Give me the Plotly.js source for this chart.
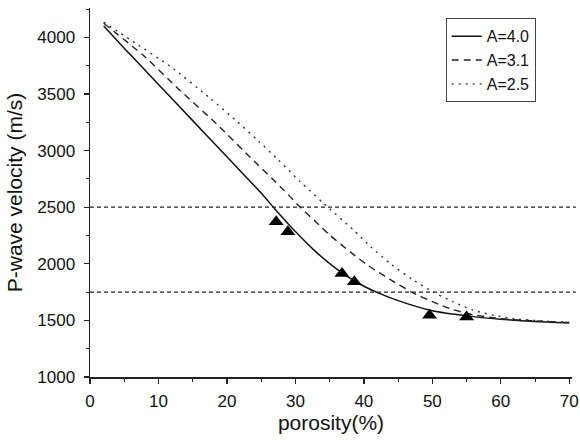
<!DOCTYPE html>
<html>
<head>
<meta charset="utf-8">
<script src="https://cdn.plot.ly/plotly-3.0.1.min.js"></script>
<style>html,body{margin:0;padding:0;background:#fff;}#chart{width:580px;height:441px;}</style>
</head>
<body>
<div id="chart"></div>
<script>
// Curve A=4.0 (solid)
const xA40 = [2, 5, 10, 15, 20, 25, 27, 30, 33, 36, 39, 42, 45, 50, 55, 60, 65, 70];
const yA40 = [4100, 3905, 3585, 3265, 2945, 2625, 2485, 2285, 2105, 1955, 1835, 1745, 1675, 1585, 1540, 1510, 1490, 1478];
// Curve A=3.1 (dashed)
const xA31 = [2, 8, 13, 18.5, 24, 28, 30.7, 33, 35, 38, 40.5, 44, 47, 50, 53, 56, 60, 65, 70];
const yA31 = [4125, 3830, 3540, 3235, 2905, 2670, 2500, 2370, 2255, 2105, 1990, 1855, 1750, 1665, 1595, 1550, 1515, 1495, 1482];
// Curve A=2.5 (dotted)
const xA25 = [2, 6, 11.7, 17.5, 21.2, 24.5, 27.5, 30.7, 34.1, 38.5, 41, 44, 47, 50, 53, 56, 59, 62, 66, 70];
const yA25 = [4135, 3975, 3745, 3465, 3272, 3090, 2918, 2726, 2535, 2298, 2150, 1995, 1865, 1755, 1665, 1590, 1545, 1515, 1495, 1483];
// Measured data (triangles)
const xMeas = [27.2, 28.9, 36.8, 38.6, 49.6, 55.0];
const yMeas = [2372, 2283, 1915, 1841, 1545, 1531];
// Horizontal reference levels
const refLevels = [2500, 1750];
const legendNames = ['A=4.0', 'A=3.1', 'A=2.5'];

const font = 'Arial, "Liberation Sans", sans-serif';

const traces = [
  {x: xA40, y: yA40, name: legendNames[0], mode: 'lines', line: {color: '#111', width: 1.5, shape: 'spline', smoothing: 0.6}},
  {x: xA31, y: yA31, name: legendNames[1], mode: 'lines', line: {color: '#222', width: 1.4, dash: '7px,5px', shape: 'spline', smoothing: 0.6}},
  {x: xA25, y: yA25, name: legendNames[2], mode: 'lines', line: {color: '#333', width: 1.4, dash: '2px,5px', shape: 'spline', smoothing: 0.6}},
  {x: xMeas, y: yMeas, mode: 'markers', showlegend: false, cliponaxis: false,
   marker: {symbol: 'triangle-up', size: 13, color: '#000'}}
];

const shapes = refLevels.map(v => ({
  type: 'line', xref: 'paper', yref: 'y', x0: 0, x1: 1.008, y0: v, y1: v,
  line: {color: '#222', width: 1.2, dash: '4px,3px'}
}));

const layout = {
  width: 580, height: 441,
  margin: {l: 90, r: 8, t: 8, b: 64},
  paper_bgcolor: '#fff', plot_bgcolor: '#fff',
  font: {family: font, color: '#111', size: 17},
  showlegend: true,
  legend: {x: 0.738, y: 0.972, xanchor: 'left', yanchor: 'top',
           bgcolor: '#fff', bordercolor: '#444', borderwidth: 1,
           font: {family: font, size: 16, color: '#111'}, tracegroupgap: 0},
  xaxis: {range: [0, 70.4], tickvals: [0,10,20,30,40,50,60,70], showgrid: false, zeroline: false,
          showline: true, linecolor: '#222', linewidth: 1.5, ticks: 'outside', ticklen: 5, tickwidth: 1.3, tickcolor: '#222',
          minor: {dtick: 5, tick0: 0, ticks: 'outside', ticklen: 3, tickwidth: 1, tickcolor: '#222'},
          tickfont: {size: 17, family: font}, ticklabelstandoff: 3,
          title: {text: 'porosity(%)', font: {size: 21, family: font}, standoff: 3}},
  yaxis: {range: [1000, 4260], tickvals: [1000,1500,2000,2500,3000,3500,4000], showgrid: false, zeroline: false,
          showline: true, linecolor: '#222', linewidth: 1.5, ticks: 'outside', ticklen: 5, tickwidth: 1.3, tickcolor: '#222',
          minor: {dtick: 250, tick0: 1000, ticks: 'outside', ticklen: 3, tickwidth: 1, tickcolor: '#222'},
          tickfont: {size: 17, family: font}, ticklabelstandoff: 5,
          title: {text: 'P-wave velocity (m/s)', font: {size: 21, family: font}, standoff: 9}},
  shapes: shapes
};

Plotly.newPlot('chart', traces, layout, {displayModeBar: false, staticPlot: true});
</script>
</body>
</html>
